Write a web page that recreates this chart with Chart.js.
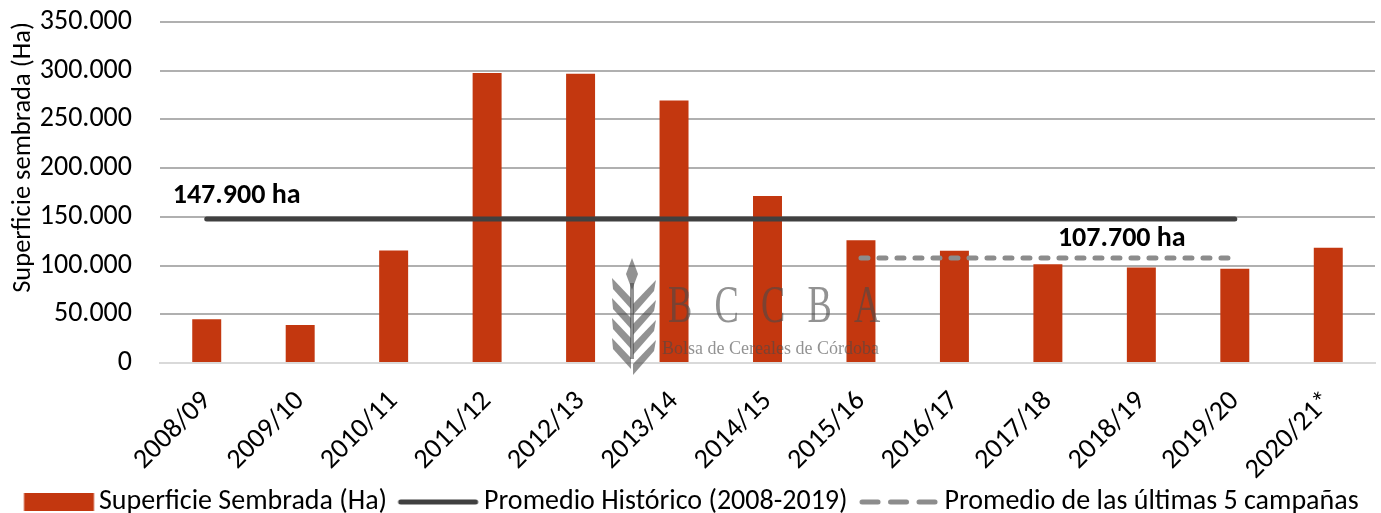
<!DOCTYPE html>
<html>
<head>
<meta charset="utf-8">
<script src="https://cdn.jsdelivr.net/npm/chart.js@4.4.1/dist/chart.umd.min.js"></script>
<style>
html,body{margin:0;padding:0;background:#fff;}
#wrap{width:1381px;height:513px;position:relative;}
</style>
</head>
<body>
<div id="wrap"><canvas id="c" width="1381" height="513"></canvas></div>
<script>
const campaigns = ["2008/09","2009/10","2010/11","2011/12","2012/13","2013/14","2014/15","2015/16","2016/17","2017/18","2018/19","2019/20","2020/21*"];
const surface = [45000, 39000, 115500, 297600, 296900, 269500, 171400, 126100, 115200, 101400, 98000, 96700, 118300];
const historicAvg = [147900,147900,147900,147900,147900,147900,147900,147900,147900,147900,147900,147900,null];
const last5Avg = [null,null,null,null,null,null,null,107700,107700,107700,107700,107700,null];
const avgLabels = ["147.900 ha", "107.700 ha"];
const seriesNames = ["Superficie Sembrada (Ha)", "Promedio Histórico (2008-2019)", "Promedio de las últimas 5 campañas"];
const yTicks = [0, 50000, 100000, 150000, 200000, 250000, 300000, 350000];

const FONT = "Carlito, Lato, 'Open Sans', sans-serif";
const BAR = '#C3370F', DARK = '#404040', GREY = '#8C8C8C';
const fmt = v => v.toLocaleString('de-DE');

function markerCanvas(kind, color, from, to, dash) {
  const c = document.createElement('canvas');
  c.width = 100; c.height = 20;
  const g = c.getContext('2d');
  if (kind === 'rect') {
    g.fillStyle = color; g.fillRect(from, 1, to - from, 18);
  } else {
    g.strokeStyle = color; g.lineWidth = 5; g.lineCap = 'round';
    if (dash) g.setLineDash(dash);
    g.beginPath(); g.moveTo(from + 2.5, 10); g.lineTo(to - 2.5, 10); g.stroke();
  }
  return c;
}
const markers = [
  markerCanvas('rect', BAR, 26.5, 96.5),
  markerCanvas('line', DARK, 15.5, 95.5),
  markerCanvas('line', GREY, 16.5, 94.5, [16, 12.5])
];

const avgLabelPlugin = {
  id: 'avgLabels',
  afterDatasetsDraw(chart) {
    const {ctx, scales:{x, y}} = chart;
    ctx.save();
    ctx.font = "bold 28px " + FONT;
    ctx.fillStyle = "#000";
    ctx.textBaseline = "alphabetic";
    ctx.textAlign = "left";
    ctx.fillText(avgLabels[0], x.getPixelForValue(0) - 34, y.getPixelForValue(147900) - 16);
    ctx.fillText(avgLabels[1], x.getPixelForValue(9) + 10, y.getPixelForValue(107700) - 12);
    ctx.restore();
  }
};

const watermark = {
  id: 'watermark',
  afterDatasetsDraw(chart) {
    const ctx = chart.ctx;
    ctx.save();
    ctx.globalAlpha = 0.6;
    ctx.fillStyle = "#4a4a4a";
    const cx = 632, top = 258;
    ctx.fillRect(cx - 2, top + 25, 4, 76);
    ctx.beginPath();
    ctx.moveTo(cx, top); ctx.lineTo(cx + 6, top + 16); ctx.lineTo(cx, top + 32); ctx.lineTo(cx - 6, top + 16); ctx.closePath();
    ctx.fill();
    for (let i = 0; i < 4; i++) {
      const b = top + 44 + i * 20;
      ctx.beginPath();
      ctx.moveTo(cx + 1, b + 2); ctx.lineTo(cx + 24, b - 22); ctx.lineTo(cx + 22, b - 11); ctx.lineTo(cx + 1, b + 13); ctx.closePath(); ctx.fill();
      ctx.beginPath();
      ctx.moveTo(cx - 1, b - 4); ctx.lineTo(cx - 20, b - 24); ctx.lineTo(cx - 19, b - 13); ctx.lineTo(cx - 1, b + 7); ctx.closePath(); ctx.fill();
    }
    ctx.textBaseline = "alphabetic";
    const letters = ["B","C","C","B","A"];
    ctx.font = "52px 'Liberation Serif', 'DejaVu Serif', serif";
    letters.forEach((l, i) => {
      ctx.save();
      ctx.translate(668 + i * 46.5, 322);
      ctx.scale(0.7, 1);
      ctx.fillText(l, 0, 0);
      ctx.restore();
    });
    ctx.font = "18px 'Liberation Serif', 'DejaVu Serif', serif";
    ctx.fillText("Bolsa de Cereales de Córdoba", 662, 354);
    ctx.restore();
  }
};

new Chart(document.getElementById('c'), {
  data: {
    labels: campaigns,
    datasets: [
      { type: 'bar', label: seriesNames[0], data: surface, backgroundColor: BAR, borderWidth: 0,
        categoryPercentage: 1, barPercentage: 0.31, order: 3 },
      { type: 'line', label: seriesNames[1], data: historicAvg, borderColor: DARK, borderWidth: 5,
        pointRadius: 0, borderCapStyle: 'round', spanGaps: false, order: 1 },
      { type: 'line', label: seriesNames[2], data: last5Avg, borderColor: GREY, borderWidth: 5,
        borderDash: [7, 11], borderCapStyle: 'round', pointRadius: 0, spanGaps: false, order: 2 }
    ]
  },
  options: {
    responsive: false,
    animation: false,
    layout: { padding: { top: 22, right: 6, left: 2, bottom: -13 } },
    plugins: {
      tooltip: { enabled: false },
      legend: {
        position: 'bottom',
        align: 'start',
        labels: {
          usePointStyle: true,
          pointStyleWidth: 75,
          boxHeight: 18,
          padding: 8,
          color: '#000',
          font: { family: FONT, size: 28 },
          generateLabels(chart) {
            return chart.data.datasets.map((ds, i) => ({
              text: ds.label,
              datasetIndex: i,
              fillStyle: 'rgba(0,0,0,0)',
              strokeStyle: 'rgba(0,0,0,0)',
              lineWidth: 0,
              pointStyle: markers[i],
              hidden: false,
              fontColor: '#000'
            }));
          }
        }
      }
    },
    scales: {
      x: {
        grid: { display: false, drawTicks: false },
        border: { display: true, color: '#D9D9D9', width: 2 },
        ticks: { color: '#000', font: { family: FONT, size: 28 }, maxRotation: 45, minRotation: 45, padding: 22, autoSkip: false },
        afterFit(axis) { axis.height = 117; axis.paddingLeft = 0; axis.paddingRight = 0; }
      },
      y: {
        min: 0, max: 350000,
        afterBuildTicks(axis) { axis.ticks = yTicks.map(v => ({ value: v })); },
        grid: { color: c => (c.tick && c.tick.value === 0) ? '#D9D9D9' : '#B0B0B0', lineWidth: 2, drawTicks: false },
        border: { display: false },
        ticks: { color: '#000', font: { family: FONT, size: 28 }, padding: 28, callback: v => fmt(v) },
        title: { display: true, text: 'Superficie sembrada (Ha)', align: 'end', color: '#000', font: { family: FONT, size: 26.5 }, padding: { top: 5, bottom: 0 } },
        afterFit(axis) { axis.width = 158; axis.paddingTop = 0; axis.paddingBottom = 0; }
      }
    }
  },
  plugins: [avgLabelPlugin, watermark]
});
</script>
</body>
</html>
